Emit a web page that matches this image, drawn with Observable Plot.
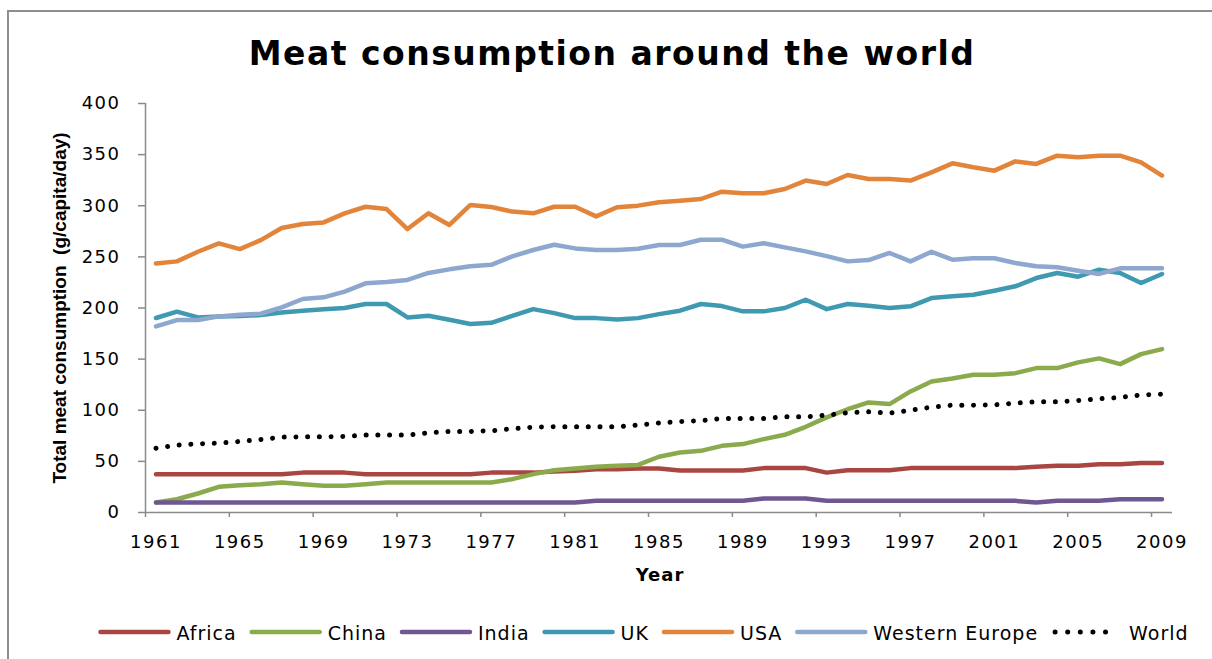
<!DOCTYPE html>
<html>
<head>
<meta charset="utf-8">
<script src="https://cdn.jsdelivr.net/npm/d3@7"></script>
<script src="https://cdn.jsdelivr.net/npm/@observablehq/plot@0.6"></script>
<style>
html, body { margin: 0; padding: 0; background: #fff; }
#wrap { position: relative; width: 1212px; height: 659px; overflow: hidden; background: #fff; }
#wrap svg { position: absolute; left: 0; }
.ticklbl text { letter-spacing: 1.5px; }
</style>
</head>
<body>
<div id="wrap"></div>
<script>
// ---------- data ----------
const years = d3.range(1961, 2010);
const seriesNames = ["Africa", "China", "India", "UK", "USA", "Western Europe", "World"];

const africa = [37.5,37.5,37.5,37.5,37.5,37.5,37.5, 39,39,39, 37.5,37.5,37.5,37.5,37.5,37.5,
  39,39,39,40, 40.8, 42.4,42.4, 43,43, 41,41,41,41, 43.4,43.4,43.4, 39, 41.4,41.4,41.4,
  43.4,43.4,43.4,43.4,43.4,43.4, 44.7, 45.7,45.7, 47.3,47.3, 48.3,48.3];
const china = [9.8,13,18.6,25.1,26.7,27.7,29.4,27.7,26.1,26.1,27.7,29.4,29.4,29.4,29.4,29.4,29.4,
  32.6,37.5,41.4,43,44.7,45.7,46.5,54.5,58.7,60.3,65.2,66.9,71.8,76,83.8,93,101,107.6,106,
  118.4,128.2,131.1,134.7,134.7,136.3,141.2,141.2,146.8,150.7,145.1,154.9,159.8];
const india = [9.8,9.8,9.8,9.8,9.8,9.8,9.8,9.8,9.8,9.8,9.8,9.8,9.8,9.8,9.8,9.8,9.8,9.8,9.8,9.8,9.8,
  11.4,11.4,11.4,11.4,11.4,11.4,11.4,11.4, 13.7,13.7,13.7,
  11.4,11.4,11.4,11.4,11.4,11.4,11.4,11.4,11.4,11.4, 9.8, 11.4,11.4,11.4, 13,13,13];
const uk = [190.2,196.4,190.8,191.8,192.1,193.1,195.7,197.4,198.7,200,203.9,203.9,190.8,192.4,
  188.5,184.3,185.5,192.4,198.9,195,190.1,190.1,188.8,190.1,194,197.4,203.9,201.9,196.7,196.7,
  200,208.1,198.9,203.9,202.2,199.9,201.6,209.7,211.4,213,216.9,221.2,229.3,234.2,230.6,237.5,
  234.2,224.4,233.2];
const usa = [243.6,245.6,255,263.2,257.6,266.4,278.2,282.1,283.7,292.6,299,296.8,277.2,292.6,
  281.2,300.8,298.8,294.3,292.6,299,299,289.6,298.5,300.1,303.5,305,306.6,313.8,312.2,312.2,
  316.4,324.6,321.3,330.1,326.2,326.2,324.6,332.7,341.5,337.6,334.3,343.4,340.9,349,347.4,349,
  349,342.5,329.5];
const westernEurope = [182,188.2,188.2,191.8,193.4,194.4,200.6,208.8,210.4,216,224.1,225.4,227.4,
  234.3,237.8,240.8,242.2,250.5,256.7,261.9,258.3,256.7,256.7,258,261.6,261.6,266.8,266.8,260,
  263.3,259.3,255.4,250.7,245.6,246.9,253.8,245.6,255,247.3,248.6,248.6,244,240.8,239.8,236.5,
  233.3,238.8,238.8,238.8];
const world = [62.9,65.9,67.2,67.8,69.5,71.4,73.7,74,74,74.4,75.7,75.7,75.7,78,79.3,79.3,79.9,
  81.9,83.5,83.8,83.8,83.8,83.8,85.6,87.5,89,89.7,92,92,92,93.6,93.6,95.2,97.5,98.5,97.2,100,
  103,105,105,105.3,107,108.3,108.3,109.6,111.2,112.5,115,115.7];

const yTicks = [0, 50, 100, 150, 200, 250, 300, 350, 400];
const xTickLabels = [1961, 1965, 1969, 1973, 1977, 1981, 1985, 1989, 1993, 1997, 2001, 2005, 2009];

// ---------- styles ----------
const palette = {
  "Africa": "#AA4642", "China": "#8AAA4C", "India": "#6F5892", "UK": "#3F99B0",
  "USA": "#E2853B", "Western Europe": "#8EA7CF", "World": "#000000"
};
const axisGray = "#8A8A8A";

// ---------- build table ----------
const seriesValues = [africa, china, india, uk, usa, westernEurope, world];
const rows = [];
seriesNames.forEach((name, i) => seriesValues[i].forEach((v, j) => rows.push({series: name, year: years[j], value: v})));
const solidRows = rows.filter(d => d.series !== "World");
const worldRows = rows.filter(d => d.series === "World");
const tickBounds = xTickLabels.map(y => y - 0.5);

const wrap = d3.select("#wrap");

// chrome: border + title
const chrome = wrap.append("svg").attr("width", 1212).attr("height", 659).style("top", "0px");
chrome.append("path").attr("d", "M8,659 V11 H1212").attr("fill", "none")
  .attr("stroke", "#8E8E8E").attr("stroke-width", 2);
chrome.append("text").attr("x", 612).attr("y", 65).attr("text-anchor", "middle")
  .style("font-family", "'DejaVu Sans', sans-serif").style("font-weight", "bold")
  .style("font-size", "33px").style("letter-spacing", "1.5px")
  .text("Meat consumption around the world");

// plot
const chart = Plot.plot({
  width: 1212, height: 520,
  marginTop: 23, marginBottom: 88, marginLeft: 145, marginRight: 40,
  style: {fontFamily: "'DejaVu Sans', sans-serif", fontSize: "18px", color: "#000", background: "none", overflow: "visible"},
  x: {domain: [1960.5, 2009.5]},
  y: {domain: [0, 400]},
  color: {domain: seriesNames, range: seriesNames.map(n => palette[n])},
  marks: [
    Plot.ruleX([1960.5], {y1: 0, y2: 400, stroke: axisGray, strokeWidth: 1.5}),
    Plot.ruleY([0], {x1: 1960.5, x2: 2009.5, stroke: axisGray, strokeWidth: 1.5}),
    Plot.axisY(yTicks, {anchor: "left", tickSize: 7, tickPadding: 18, stroke: axisGray, strokeWidth: 1.5, label: null, className: "ticklbl"}),
    Plot.axisX(tickBounds, {anchor: "bottom", tickSize: 5, tickFormat: () => "", stroke: axisGray, strokeWidth: 1.5, label: null}),
    Plot.axisX(xTickLabels, {anchor: "bottom", tickSize: 0, tickPadding: 23, tickFormat: d => String(d), label: null, className: "ticklbl"}),
    Plot.line(solidRows, {x: "year", y: "value", z: "series", stroke: "series", strokeWidth: 4.5, strokeLinejoin: "round", strokeLinecap: "round"}),
    Plot.line(worldRows, {x: "year", y: "value", stroke: palette["World"], strokeWidth: 5, strokeDasharray: "0.01 11.7", strokeLinecap: "round"})
  ]
});
d3.select(chart).style("top", "80px");
wrap.node().appendChild(chart);

const cs = d3.select(chart);
cs.append("text").attr("transform", "translate(66,228) rotate(-90)").attr("text-anchor", "middle")
  .style("font-family", "'Liberation Sans', Arial, sans-serif").style("font-weight", "bold")
  .style("font-size", "19px").style("white-space", "pre")
  .text("Total meat consumption  (g/capita/day)");
cs.append("text").attr("x", 660).attr("y", 501).attr("text-anchor", "middle")
  .style("font-family", "'DejaVu Sans', sans-serif").style("font-weight", "bold")
  .style("font-size", "18px").style("letter-spacing", "1px")
  .text("Year");

// legend
const leg = wrap.append("svg").attr("width", 1212).attr("height", 59).style("top", "600px");
const g = leg.append("g");
let cx = 0;
seriesNames.forEach(name => {
  if (name === "World") {
    g.append("line").attr("x1", cx + 2).attr("x2", cx + 65).attr("y1", 32).attr("y2", 32)
      .attr("stroke", palette[name]).attr("stroke-width", 5).attr("stroke-linecap", "round")
      .attr("stroke-dasharray", "0.01 12.6");
  } else {
    g.append("line").attr("x1", cx).attr("x2", cx + 68).attr("y1", 32).attr("y2", 32)
      .attr("stroke", palette[name]).attr("stroke-width", 4.5).attr("stroke-linecap", "round");
  }
  const t = g.append("text").attr("x", cx + 76).attr("y", 40)
    .style("font-family", "'DejaVu Sans', sans-serif").style("font-size", "19px")
    .style("letter-spacing", "1px").text(name);
  const w = t.node().getComputedTextLength();
  cx += 76 + w + 15;
});
const total = cx - 15;
g.attr("transform", `translate(${644.5 - total / 2},0)`);
</script>
</body>
</html>
